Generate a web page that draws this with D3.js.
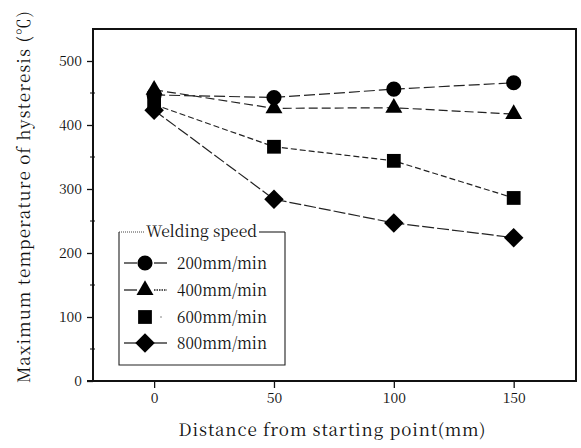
<!DOCTYPE html>
<html><head><meta charset="utf-8">
<script src="https://cdn.jsdelivr.net/npm/d3@7"></script>
<style>body{margin:0;background:#fff}svg{display:block}</style>
</head><body><svg id="c" width="581" height="448"></svg>
<script>
const distances = [0, 50, 100, 150];
const speedLabels = ["200mm/min", "400mm/min", "600mm/min", "800mm/min"];
const temp200 = [447, 443, 456, 466];
const temp400 = [455, 426, 427, 417];
const temp600 = [432, 366, 344, 286];
const temp800 = [423, 284, 247, 224];
const xTicks = [0, 50, 100, 150];
const yTicks = [0, 100, 200, 300, 400, 500];

const FONT = '"Noto Serif CJK JP","Liberation Serif",serif';
const diamond = {draw(ctx, size) { const r = Math.sqrt(size / 2); ctx.moveTo(0, -r); ctx.lineTo(r, 0); ctx.lineTo(0, r); ctx.lineTo(-r, 0); ctx.closePath(); }};

const series = [
  {name: speedLabels[0], values: temp200, sym: d3.symbolCircle, size: 180, dash: "11,4"},
  {name: speedLabels[1], values: temp400, sym: d3.symbolTriangle, size: 125, dash: "9,4"},
  {name: speedLabels[2], values: temp600, sym: d3.symbolSquare, size: 190, dash: "6,3"},
  {name: speedLabels[3], values: temp800, sym: diamond, size: 190, dash: "12,3"}
];

const svg = d3.select("#c");
const L = 93, R = 576, T = 29, B = 381;
const x = d3.scaleLinear().domain([-25.5, 176]).range([L, R]);
const y = d3.scaleLinear().domain([0, 550]).range([B, T]);

svg.append("rect").attr("x", L).attr("y", T).attr("width", R - L).attr("height", B - T)
  .attr("fill", "none").attr("stroke", "#111").attr("stroke-width", 2);
svg.append("line").attr("x1", L - 6).attr("x2", L).attr("y1", B).attr("y2", B).attr("stroke", "#111").attr("stroke-width", 2);

const xAxis = d3.axisBottom(x).tickValues(xTicks).tickSize(7).tickPadding(5).tickFormat(d3.format("d"));
const gx = svg.append("g").attr("transform", `translate(0,${B})`).call(xAxis);
gx.select(".domain").remove();
gx.selectAll("line").attr("stroke", "#111").attr("stroke-width", 1.3);
gx.selectAll("text").style("font-size", "14px").style("font-family", FONT).attr("fill", "#111");

const yAxis = d3.axisLeft(y).tickValues(yTicks).tickSize(6).tickPadding(5).tickFormat(d3.format("d"));
const gy = svg.append("g").attr("transform", `translate(${L},0)`).call(yAxis);
gy.select(".domain").remove();
gy.selectAll("line").attr("stroke", "#111").attr("stroke-width", 1.3);
gy.selectAll("text").style("font-size", "14px").style("font-family", FONT).attr("fill", "#111");

const minor = d3.range(50, 550, 100);
svg.append("g").selectAll("line").data(minor).join("line")
  .attr("x1", L - 3).attr("x2", L + 2).attr("y1", d => y(d)).attr("y2", d => y(d))
  .attr("stroke", "#111").attr("stroke-width", 1);

const line = d3.line().x((d, i) => x(distances[i])).y(d => y(d));
series.forEach(s => {
  svg.append("path").datum(s.values).attr("d", line)
    .attr("fill", "none").attr("stroke", "#222").attr("stroke-width", 1.2)
    .attr("stroke-dasharray", s.dash);
});
series.forEach(s => {
  svg.append("g").selectAll("path").data(s.values).join("path")
    .attr("transform", (d, i) => `translate(${x(distances[i])},${y(d)})`)
    .attr("d", d3.symbol().type(s.sym).size(s.size)).attr("fill", "#000");
});

// legend
const lg = svg.append("g");
const lx0 = 119, lx1 = 285, ly0 = 232, ly1 = 365;
lg.append("path").attr("d", `M${lx0},${ly0}V${ly1}H${lx1}V${ly0}`).attr("fill", "none").attr("stroke", "#222").attr("stroke-width", 1.1);
lg.append("line").attr("x1", lx0).attr("x2", 144).attr("y1", ly0).attr("y2", ly0).attr("stroke", "#444").attr("stroke-dasharray", "1,1");
lg.append("line").attr("x1", 259).attr("x2", lx1).attr("y1", ly0).attr("y2", ly0).attr("stroke", "#222").attr("stroke-width", 1.1);
lg.append("text").attr("x", 146).attr("y", ly0 + 5).style("font-size", "16px").style("font-family", FONT).attr("fill", "#111")
  .attr("textLength", 111).attr("lengthAdjust", "spacingAndGlyphs").text("Welding speed");
const rowY = [263, 290, 317, 343];
series.forEach((s, i) => {
  const cy = rowY[i];
  if (i !== 2) {
    lg.append("line").attr("x1", 124).attr("x2", 137).attr("y1", cy).attr("y2", cy).attr("stroke", "#222").attr("stroke-width", 1.3);
    lg.append("line").attr("x1", 154).attr("x2", 167).attr("y1", cy).attr("y2", cy).attr("stroke", "#222").attr("stroke-width", 1.3)
      .attr("stroke-dasharray", i === 1 ? "1.5,1" : null);
  } else {
    lg.append("line").attr("x1", 160).attr("x2", 162).attr("y1", cy).attr("y2", cy).attr("stroke", "#888");
  }
  lg.append("path").attr("transform", `translate(145,${cy})`).attr("d", d3.symbol().type(s.sym).size(s.size)).attr("fill", "#000");
  lg.append("text").attr("x", 177).attr("y", cy + 6).style("font-size", "17px").style("font-family", FONT).attr("fill", "#111")
    .attr("textLength", 90).attr("lengthAdjust", "spacingAndGlyphs").text(s.name);
});

svg.append("text").attr("x", 332).attr("y", 436).attr("text-anchor", "middle").style("font-size", "17px").style("font-family", FONT).attr("fill", "#111")
  .attr("textLength", 307).attr("lengthAdjust", "spacing").text("Distance from starting point(mm)");
svg.append("text").attr("transform", "translate(30,197) rotate(-90)").attr("text-anchor", "middle").style("font-size", "17px").style("font-family", FONT).attr("fill", "#111")
  .attr("textLength", 372).attr("lengthAdjust", "spacing").text("Maximum  temperature of hysteresis (℃)");
</script></body></html>
